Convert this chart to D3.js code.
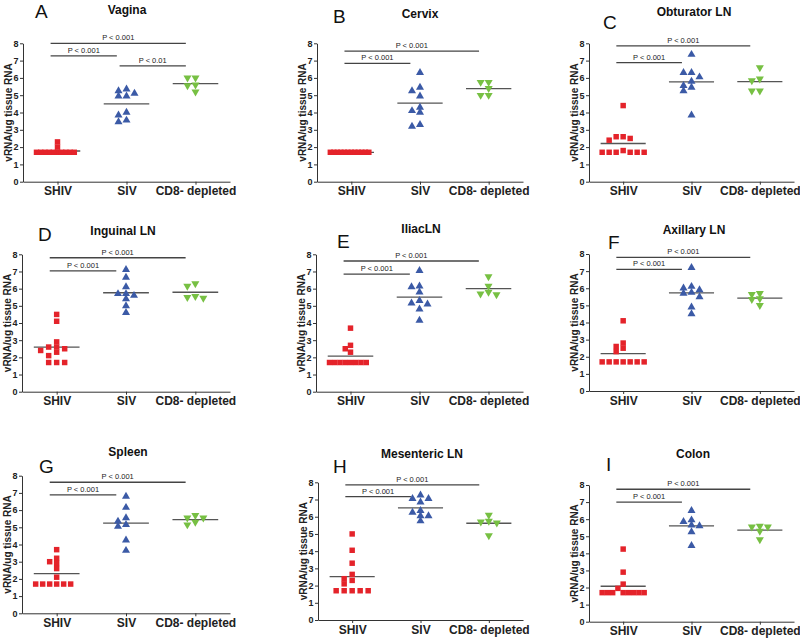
<!DOCTYPE html>
<html><head><meta charset="utf-8">
<script src="https://cdn.jsdelivr.net/npm/d3@7"></script>
<style>
body{margin:0;background:#fff}
text{font-family:"Liberation Sans",Arial,sans-serif}
</style>
</head><body>
<svg id="chart" width="800" height="640"></svg>
<script>
// ---------------- DATA ----------------
const categories = ["SHIV", "SIV", "CD8- depleted"];
const tissues = ["Vagina", "Cervix", "Obturator LN", "Inguinal LN", "IliacLN", "Axillary LN", "Spleen", "Mesenteric LN", "Colon"];
const panelLetters = ["A", "B", "C", "D", "E", "F", "G", "H", "I"];
const yTicks = [0, 1, 2, 3, 4, 5, 6, 7, 8];
const yLabel = "vRNA/ug tissue RNA";

const shivData = [
  [2.3, 2.0, 1.7, 1.7, 1.7, 1.7, 1.7, 1.7, 1.7, 1.7, 1.7, 1.7],
  [1.7, 1.7, 1.7, 1.7, 1.7, 1.7, 1.7, 1.7, 1.7, 1.7, 1.7, 1.7],
  [4.4, 2.6, 2.6, 2.5, 2.4, 1.8, 1.7, 1.7, 1.7, 1.7, 1.7, 1.7],
  [4.5, 4.1, 2.9, 2.6, 2.6, 2.5, 2.4, 2.3, 2.1, 1.7, 1.7, 1.7],
  [3.7, 2.7, 2.5, 2.3, 1.7, 1.7, 1.7, 1.7, 1.7, 1.7, 1.7, 1.7],
  [4.1, 2.8, 2.6, 2.5, 2.3, 1.7, 1.7, 1.7, 1.7, 1.7, 1.7, 1.7],
  [3.7, 3.2, 3.0, 2.9, 2.6, 2.1, 1.7, 1.7, 1.7, 1.7, 1.7, 1.7],
  [5.0, 4.05, 3.3, 2.65, 2.4, 2.3, 2.1, 1.7, 1.7, 1.7, 1.7, 1.7],
  [4.25, 2.9, 2.2, 1.95, 1.7, 1.7, 1.7, 1.7, 1.7, 1.7, 1.7, 1.7]
];
const sivData = [
  [5.35, 5.25, 5.1, 4.95, 4.95, 4.0, 3.85, 3.55, 3.45],
  [6.3, 5.45, 5.25, 4.95, 4.3, 4.1, 4.0, 3.3, 3.2],
  [7.35, 6.3, 6.3, 6.05, 5.8, 5.55, 5.45, 5.25, 3.85],
  [7.1, 6.65, 6.1, 5.7, 5.7, 5.6, 5.4, 5.0, 4.6],
  [7.05, 6.15, 6.1, 5.8, 5.3, 5.15, 5.1, 4.8, 4.15],
  [7.2, 6.1, 6.0, 5.9, 5.75, 5.7, 5.5, 4.9, 4.5],
  [6.8, 6.15, 5.55, 5.35, 5.15, 5.05, 4.25, 3.65],
  [7.25, 7.05, 7.05, 6.85, 6.35, 6.25, 6.05, 6.05, 5.75],
  [6.5, 5.95, 5.85, 5.65, 5.6, 5.25, 4.45]
];
const cd8Data = [
  [6.0, 6.0, 5.6, 5.55, 5.2],
  [5.75, 5.75, 5.4, 5.0, 5.0],
  [6.6, 5.95, 5.85, 5.25, 5.25],
  [6.3, 6.15, 5.55, 5.5, 5.45],
  [6.7, 6.15, 5.8, 5.7, 5.65],
  [5.7, 5.65, 5.4, 5.35, 5.0],
  [5.7, 5.55, 5.55, 5.3, 5.15],
  [6.1, 5.75, 5.7, 5.65, 4.9],
  [5.6, 5.55, 5.55, 5.3, 4.8]
];
// significance brackets: [from category index, to category index, level (y units), label]
const bracketData = [
  [[0, 2, 8.0, "P < 0.001"], [0, 1, 7.27, "P < 0.001"], [1, 2, 6.7, "P < 0.01"]],
  [[0, 2, 7.55, "P < 0.001"], [0, 1, 6.84, "P < 0.001"]],
  [[0, 2, 7.85, "P < 0.001"], [0, 1, 6.88, "P < 0.001"]],
  [[0, 2, 7.8, "P < 0.001"], [0, 1, 7.03, "P < 0.001"]],
  [[0, 2, 7.61, "P < 0.001"], [0, 1, 6.85, "P < 0.001"]],
  [[0, 2, 7.8, "P < 0.001"], [0, 1, 7.1, "P < 0.001"]],
  [[0, 2, 7.62, "P < 0.001"], [0, 1, 6.88, "P < 0.001"]],
  [[0, 2, 7.85, "P < 0.001"], [0, 1, 7.17, "P < 0.001"]],
  [[0, 2, 7.75, "P < 0.001"], [0, 1, 7.0, "P < 0.001"]]
];

// ---------------- LAYOUT ----------------
const frames = [
  {l: 23,  r: 230, t: 43.3,  b: 181.7, tx: 127, ty: 14,  lx: 35,  ly: 17.5},
  {l: 317, r: 523, t: 43.3,  b: 181.7, tx: 420, ty: 18,  lx: 333, ly: 23},
  {l: 589, r: 794, t: 43.3,  b: 181.7, tx: 694, ty: 16,  lx: 603, ly: 29},
  {l: 22,  r: 230, t: 254.3, b: 391.7, tx: 123, ty: 235, lx: 38,  ly: 241},
  {l: 316, r: 523, t: 254.3, b: 391.7, tx: 421, ty: 233, lx: 337, ly: 248},
  {l: 589, r: 794, t: 254,   b: 391,   tx: 694, ty: 234, lx: 608, ly: 249},
  {l: 22,  r: 230, t: 475.7, b: 613.3, tx: 128, ty: 456, lx: 39,  ly: 473},
  {l: 318, r: 523, t: 482.3, b: 620,   tx: 422, ty: 458, lx: 333, ly: 473},
  {l: 589, r: 794, t: 485,   b: 621.7, tx: 693, ty: 458, lx: 606, ly: 471}
];
const colors = ["#e4232a", "#3b5aa6", "#77c043"];
const symbols = [d3.symbolSquare, d3.symbolTriangle, d3.symbolTriangle];
const symSizes = [30, 28, 28];
const rotations = [0, 0, 180];

const svg = d3.select("#chart");

function swarm(vals, yScale, cx, step, minDy, maxHalf) {
  const pts = vals.map(v => ({v, py: yScale(v), dx: 0}));
  const order = pts.slice().sort((a, b) => b.v - a.v);
  const placed = [];
  for (const p of order) {
    for (let k = 0; k < 60; k++) {
      const off = k === 0 ? 0 : (k % 2 ? -Math.ceil(k / 2) : Math.ceil(k / 2)) * step;
      if (!placed.some(q => Math.abs(q.dx - off) < step * 0.9 && Math.abs(q.py - p.py) < minDy)) {
        p.dx = off; break;
      }
    }
    placed.push(p);
  }
  const m = d3.max(pts, p => Math.abs(p.dx));
  const f = m > maxHalf ? maxHalf / m : 1;
  pts.forEach(p => p.px = cx + p.dx * f);
  return pts;
}

frames.forEach((fr, i) => {
  const g = svg.append("g");
  const x = d3.scalePoint().domain(categories).range([fr.l, fr.r]).padding(0.5);
  const y = d3.scaleLinear().domain([0, 8]).range([fr.b, fr.t]);
  const step = x.step();

  // Y axis
  const ya = g.append("g").attr("transform", `translate(${fr.l},0)`)
    .call(d3.axisLeft(y).tickValues(yTicks).tickFormat(d3.format("d")).tickSize(3).tickSizeOuter(0).tickPadding(1.5));
  ya.selectAll("text").style("font-size", "9px").style("font-weight", "bold").attr("fill", "#222");
  ya.selectAll("line,path").attr("stroke", "#333");

  // X axis
  const xa = g.append("g").attr("transform", `translate(0,${fr.b})`)
    .call(d3.axisBottom(x).tickSize(3).tickSizeOuter(0).tickPadding(2));
  xa.selectAll("text").style("font-size", "12px").style("font-weight", "bold").attr("fill", "#222");
  xa.selectAll("line,path").attr("stroke", "#333");

  // Y label
  g.append("text")
    .attr("transform", `translate(${fr.l - 11.5},${(fr.t + fr.b) / 2}) rotate(-90)`)
    .attr("text-anchor", "middle")
    .style("font-size", "10px").style("font-weight", "bold").attr("fill", "#222")
    .text(yLabel);

  // Title
  g.append("text").attr("x", fr.tx).attr("y", fr.ty).attr("text-anchor", "middle")
    .style("font-size", "12px").style("font-weight", "bold").attr("fill", "#111")
    .text(tissues[i]);

  // Panel letter
  g.append("text").attr("x", fr.lx).attr("y", fr.ly)
    .style("font-size", "19px").attr("fill", "#111")
    .text(panelLetters[i]);

  // Brackets
  bracketData[i].forEach(([a, b, lvl, lab]) => {
    const x1 = x(categories[a]) - 0.1 * step;
    const x2 = x(categories[b]) - 0.14 * step;
    const yy = y(lvl);
    g.append("line").attr("x1", x1).attr("x2", x2).attr("y1", yy).attr("y2", yy)
      .attr("stroke", "#444").attr("stroke-width", 1.3);
    g.append("text").attr("x", (x1 + x2) / 2).attr("y", yy - 3).attr("text-anchor", "middle")
      .style("font-size", "7.5px").attr("fill", "#222").text(lab);
  });

  // Groups
  [shivData[i], sivData[i], cd8Data[i]].forEach((vals, c) => {
    const cx = x(categories[c]);
    const mean = d3.mean(vals);
    g.append("line")
      .attr("x1", cx - 0.33 * step).attr("x2", cx + 0.33 * step)
      .attr("y1", y(mean)).attr("y2", y(mean))
      .attr("stroke", "#555").attr("stroke-width", 1.3);
    const pts = swarm(vals, y, cx, 8, 4.5, 21);
    g.selectAll(null).data(pts).enter().append("path")
      .attr("d", d3.symbol().type(symbols[c]).size(symSizes[c]))
      .attr("transform", d => `translate(${d.px},${d.py}) rotate(${rotations[c]})`)
      .attr("fill", colors[c]);
  });
});
</script>
</body></html>
